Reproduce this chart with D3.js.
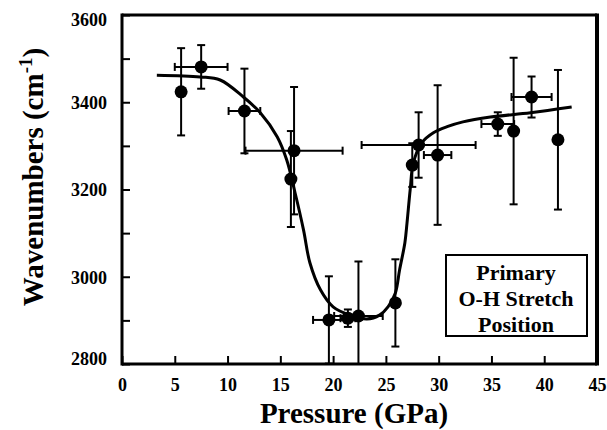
<!DOCTYPE html>
<html>
<head>
<meta charset="utf-8">
<script src="https://cdn.jsdelivr.net/npm/d3@7/dist/d3.min.js"></script>
<style>
  html, body { margin: 0; padding: 0; background: #fff; }
  svg { display: block; }
</style>
</head>
<body>
<svg id="chart" width="607" height="430"></svg>
<script>
// ---- data ----
const pressure   = [5.6, 7.5, 11.6, 16.3, 16.0, 19.6, 21.4, 22.4, 25.9, 27.5, 28.1, 29.9, 35.6, 37.1, 38.8, 41.3];
const wavenumber = [3424, 3481, 3380, 3289, 3224, 2901, 2905, 2910, 2940, 3256, 3302, 3279, 3350, 3334, 3412, 3314];
const yError     = [100, 50, 97, 146, 110, 100, 20, 125, 100, 50, 75, 160, 27, 168, 47, 160];
const xError     = [0, 2.5, 1.5, 4.6, 0, 1.5, 0.7, 2.3, 0, 0, 5.4, 1.3, 1.55, 0, 1.9, 0];

// fitted curve (traced)
const fitPressure = [3.3, 7.4, 9.3, 11.5, 13.1, 14.7, 15.6, 16.4, 17.2, 17.8, 18.8, 20.0, 21.6, 23.2, 24.4, 25.2, 25.9, 26.3, 26.8, 27.0, 27.3, 27.6, 28.4, 29.5, 30.8, 32.3, 34.9, 38.7, 42.6];
const fitWave     = [3462, 3458, 3451, 3412, 3376, 3321, 3268, 3192, 3107, 3032, 2970, 2931, 2912, 2903, 2912, 2931, 2963, 3016, 3078, 3123, 3199, 3261, 3307, 3330, 3344, 3355, 3366, 3376, 3389];

const xTicks = [0, 5, 10, 15, 20, 25, 30, 35, 40, 45];
const yTicks = [2800, 2900, 3000, 3100, 3200, 3300, 3400, 3500, 3600];
const yTickLabels = [2800, 3000, 3200, 3400, 3600];
const legendLines = ["Primary", "O-H Stretch", "Position"];

const FONT = "'Liberation Serif', serif";
function serif(sel, size) {
  return sel.attr("font-family", FONT).attr("font-weight", "bold").attr("font-size", size)
    .style("font-family", FONT).style("font-weight", "bold").style("font-size", size + "px");
}

// ---- layout ----
const svg = d3.select("#chart");
const L = 122, R = 597, T = 15, B = 364;
const x = d3.scaleLinear().domain([0, 45]).range([L, R]);
const y = d3.scaleLinear().domain([2800, 3600]).range([B, T]);

svg.append("defs").append("clipPath").attr("id", "plotclip")
  .append("rect").attr("x", L).attr("y", T).attr("width", R - L).attr("height", B - T);

// axes (ticks inward)
const xAxis = d3.axisBottom(x).tickValues(xTicks).tickSizeInner(-8).tickSizeOuter(0).tickPadding(14).tickFormat(d3.format("d"));
const gx = svg.append("g").attr("transform", `translate(0,${B})`).call(xAxis);
gx.attr("font-family", FONT).attr("font-size", 18);
gx.select(".domain").remove();
gx.selectAll(".tick line").attr("stroke", "#000").attr("stroke-width", 2);
serif(gx.selectAll(".tick text"), 18).attr("fill", "#000");

const yAxis = d3.axisLeft(y).tickValues(yTicks).tickSizeInner(-8).tickSizeOuter(0).tickPadding(15)
  .tickFormat(d => yTickLabels.includes(d) ? d : "");
const gy = svg.append("g").attr("transform", `translate(${L},0)`).call(yAxis);
gy.attr("font-family", FONT).attr("font-size", 18);
gy.select(".domain").remove();
gy.selectAll(".tick line").attr("stroke", "#000").attr("stroke-width", 2);
serif(gy.selectAll(".tick text"), 18).attr("fill", "#000")
  .attr("dy", d => d === 3600 ? "0.6em" : d === 2800 ? "0.05em" : "0.35em");

// frame
svg.append("line").attr("x1", L).attr("x2", L).attr("y1", T - 1.5).attr("y2", B + 1.5).attr("stroke", "#000").attr("stroke-width", 3);
svg.append("line").attr("x1", L).attr("x2", R).attr("y1", B).attr("y2", B).attr("stroke", "#000").attr("stroke-width", 3);
svg.append("line").attr("x1", L).attr("x2", R).attr("y1", T).attr("y2", T).attr("stroke", "#000").attr("stroke-width", 3);
svg.append("line").attr("x1", R).attr("x2", R).attr("y1", T - 1.5).attr("y2", B + 1.5).attr("stroke", "#000").attr("stroke-width", 4);

const plot = svg.append("g").attr("clip-path", "url(#plotclip)");

// fitted curve
const line = d3.line().x(d => x(d[0])).y(d => y(d[1])).curve(d3.curveCatmullRom.alpha(0.5));
plot.append("path")
  .datum(fitPressure.map((p, i) => [p, fitWave[i]]))
  .attr("d", line).attr("fill", "none").attr("stroke", "#000").attr("stroke-width", 3);

// error bars
const pts = pressure.map((p, i) => ({ p, w: wavenumber[i], ey: yError[i], ex: xError[i] }));
const cap = 4;
const eb = plot.append("g").attr("stroke", "#000").attr("stroke-width", 2);
pts.forEach(d => {
  if (d.ey > 0) {
    eb.append("line").attr("x1", x(d.p)).attr("x2", x(d.p)).attr("y1", y(d.w - d.ey)).attr("y2", y(d.w + d.ey));
    [d.w - d.ey, d.w + d.ey].forEach(v => {
      eb.append("line").attr("x1", x(d.p) - cap).attr("x2", x(d.p) + cap).attr("y1", y(v)).attr("y2", y(v));
    });
  }
  if (d.ex > 0) {
    eb.append("line").attr("x1", x(d.p - d.ex)).attr("x2", x(d.p + d.ex)).attr("y1", y(d.w)).attr("y2", y(d.w));
    [d.p - d.ex, d.p + d.ex].forEach(v => {
      eb.append("line").attr("x1", x(v)).attr("x2", x(v)).attr("y1", y(d.w) - cap).attr("y2", y(d.w) + cap);
    });
  }
});

// points
plot.append("g").selectAll("circle").data(pts).join("circle")
  .attr("cx", d => x(d.p)).attr("cy", d => y(d.w)).attr("r", 6.5).attr("fill", "#000");

// legend box
const lg = svg.append("g");
lg.append("rect").attr("x", 446).attr("y", 255).attr("width", 141).attr("height", 81)
  .attr("fill", "#fff").attr("stroke", "#000").attr("stroke-width", 2);
serif(lg.selectAll("text").data(legendLines).join("text"), 22)
  .attr("x", 516).attr("y", (d, i) => 280 + i * 26)
  .attr("text-anchor", "middle").attr("fill", "#000").text(d => d);

// axis titles
serif(svg.append("text"), 29).attr("x", 354).attr("y", 423).attr("text-anchor", "middle")
  .text("Pressure (GPa)");

const yt = serif(svg.append("text"), 29).attr("transform", "translate(43,177) rotate(-90)")
  .attr("text-anchor", "middle");
yt.append("tspan").text("Wavenumbers (cm");
yt.append("tspan").attr("dy", -11).attr("font-size", 19).style("font-size", "19px").text("-1");
yt.append("tspan").attr("dy", 11).text(")");
</script>
</body>
</html>
